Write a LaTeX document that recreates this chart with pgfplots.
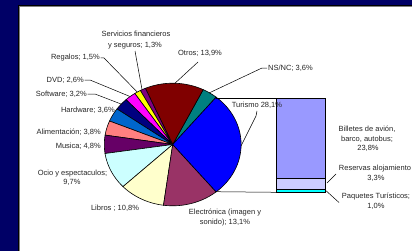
\documentclass[border=0pt]{standalone}
\usepackage{pgfplots}
\pgfplotsset{compat=1.18}
\usepackage{fontspec}
\setmainfont{Liberation Sans}
\definecolor{navybg}{HTML}{000066}
\definecolor{cTur}{HTML}{0000FF}
\definecolor{cNS}{HTML}{008080}
\definecolor{cOtr}{HTML}{800000}
\definecolor{cSer}{HTML}{800080}
\definecolor{cReg}{HTML}{FFFF00}
\definecolor{cDVD}{HTML}{FF00FF}
\definecolor{cSof}{HTML}{000080}
\definecolor{cHar}{HTML}{0066CC}
\definecolor{cAli}{HTML}{FF8080}
\definecolor{cMus}{HTML}{660066}
\definecolor{cOci}{HTML}{CCFFFF}
\definecolor{cLib}{HTML}{FFFFCC}
\definecolor{cEle}{HTML}{993366}
\definecolor{cBil}{HTML}{9999FF}
\definecolor{cRes}{HTML}{CCCCFF}
\definecolor{cPaq}{HTML}{00FFFF}
\tikzset{lab/.style={font=\fontsize{7.5bp}{9bp}\selectfont, text=black!85, inner sep=0pt}}
\begin{document}
\begin{tikzpicture}
\begin{axis}[width=412bp, height=251bp, scale only axis,
  xmin=0, xmax=412, ymin=0, ymax=251, y dir=reverse,
  hide axis, clip=false]
% background
\addplot[fill=navybg, draw=none] coordinates {(0,0) (412,0) (412,251) (0,251) (0,0)};
\addplot[fill=white, draw=none] coordinates {(19,6) (412,6) (412,251) (19,251) (19,6)};
\addplot[black, line width=1.4bp] coordinates {(18.3,251) (18.3,5.3) (412,5.3)};
\addplot[gray, line width=0.8bp] coordinates {(19.6,251) (19.6,6.6) (412,6.6)};
% pie slices (values in %), starting at the top edge of Turismo
\gdef\cum{50.58}
\foreach \v/\c in {3.6/cNS, 13.9/cOtr, 1.3/cSer, 1.5/cReg, 2.6/cDVD, 3.2/cSof, 3.6/cHar, 3.8/cAli, 4.8/cMus, 9.7/cOci, 10.8/cLib, 13.1/cEle, 28.1/cTur} {
  \pgfmathsetmacro\a{\cum}
  \pgfmathsetmacro\b{\cum+3.6*\v}
  \edef\doplot{\noexpand\addplot[fill=\c, draw=black, line width=0.6bp, domain=\a:\b, samples=40] ({172.7+68.4*cos(x)},{144.5-61.3*sin(x)}) -- (axis cs:172.7,144.5) -- cycle;}
  \doplot
  \xdef\cum{\b}
}
% connector lines
\addplot[black, line width=0.5bp] coordinates {(215.7,98.3) (276,98.3)};
\addplot[black, line width=0.5bp] coordinates {(215.7,191.7) (276,192.3)};
% stacked bar of Turismo
\gdef\cumb{192.3}
\foreach \v/\c in {1.0/cPaq, 3.3/cRes, 23.8/cBil} {
  \pgfmathsetmacro\ya{\cumb}
  \pgfmathsetmacro\yb{\cumb-3.3452*\v}
  \edef\doplot{\noexpand\addplot[fill=\c, draw=black, line width=0.6bp] coordinates {(276,\ya) (325.7,\ya) (325.7,\yb) (276,\yb) (276,\ya)};}
  \doplot
  \xdef\cumb{\yb}
}
% leader lines
\addplot[black, line width=0.5bp] coordinates {(135,51) (142,89.5)};
\addplot[black, line width=0.5bp] coordinates {(100.5,58) (104,58) (137,91.8)};
\addplot[black, line width=0.5bp] coordinates {(84.5,80) (90,80) (130,96.5)};
\addplot[black, line width=0.5bp] coordinates {(87.5,94) (95,94) (121,104)};
\addplot[black, line width=0.5bp] coordinates {(198,62) (175,83.2)};
\addplot[black, line width=0.5bp] coordinates {(267,68) (262,68) (209,93)};
\addplot[black, line width=0.5bp] coordinates {(257,111) (256,116) (241,146)};
\addplot[black, line width=0.5bp] coordinates {(336,174) (327,183)};
\addplot[black, line width=0.5bp] coordinates {(326,190.7) (339,202.5)};
% labels
\node[lab] at (axis cs:136,34) {Servicios financieros};
\node[lab] at (axis cs:135,46) {y seguros; 1,3\%};
\node[lab, anchor=east] at (axis cs:100,58) {Regalos; 1,5\%};
\node[lab, anchor=east] at (axis cs:84,80) {DVD; 2,6\%};
\node[lab, anchor=east] at (axis cs:87,94) {Software; 3,2\%};
\node[lab, anchor=east] at (axis cs:115,110) {Hardware; 3,6\%};
\node[lab, anchor=east] at (axis cs:101,132) {Alimentación; 3,8\%};
\node[lab, anchor=east] at (axis cs:101,146) {Musica; 4,8\%};
\node[lab] at (axis cs:72.5,174) {Ocio y espectaculos;};
\node[lab] at (axis cs:72,182.5) {9,7\%};
\node[lab] at (axis cs:115,208) {Libros ; 10,8\%};
\node[lab] at (axis cs:225,213) {Electrónica (imagen y};
\node[lab] at (axis cs:225,223) {sonido); 13,1\%};
\node[lab] at (axis cs:200,53) {Otros; 13,9\%};
\node[lab, anchor=west] at (axis cs:268,68) {NS/NC; 3,6\%};
\node[lab] at (axis cs:257,105) {Turismo 28,1\%};
\node[lab] at (axis cs:367,129) {Billetes de avión,};
\node[lab] at (axis cs:367,139) {barco, autobus;};
\node[lab] at (axis cs:368,148) {23,8\%};
\node[lab] at (axis cs:375,169) {Reservas alojamiento};
\node[lab] at (axis cs:376,178) {3,3\%};
\node[lab] at (axis cs:376,197) {Paquetes Turísticos;};
\node[lab] at (axis cs:376,206) {1,0\%};
\end{axis}
\pgfresetboundingbox
\path (current axis.south west) rectangle (current axis.north east);
\end{tikzpicture}
\end{document}
